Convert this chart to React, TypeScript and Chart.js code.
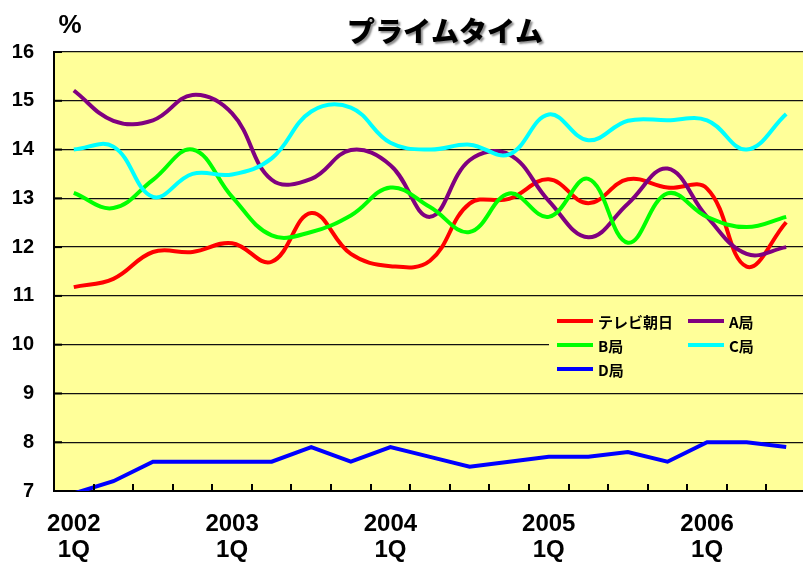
import React, { useEffect, useRef } from "react";
import { Chart, registerables } from "chart.js";

Chart.register(...registerables);

const categories: (string | string[])[] = [
  ["2002", "1Q"], "", "", "",
  ["2003", "1Q"], "", "", "",
  ["2004", "1Q"], "", "", "",
  ["2005", "1Q"], "", "", "",
  ["2006", "1Q"], "", "",
];

const seriesNames = ["テレビ朝日", "A局", "B局", "C局", "D局"];
const seriesColors = ["#FF0000", "#800080", "#00FF00", "#00FFFF", "#0000FF"];

const tvAsahi = [11.18, 11.35, 11.9, 11.9, 12.08, 11.7, 12.7, 11.86, 11.61, 11.72, 12.89, 12.99, 13.39, 12.9, 13.39, 13.22, 13.2, 11.6, 12.51];
const stationA = [15.21, 14.59, 14.6, 15.12, 14.74, 13.38, 13.4, 13.99, 13.68, 12.62, 13.78, 13.9, 12.95, 12.2, 12.89, 13.61, 12.62, 11.86, 12.0];
const stationB = [13.11, 12.8, 13.38, 14.0, 13.03, 12.24, 12.31, 12.65, 13.22, 12.82, 12.31, 13.1, 12.62, 13.4, 12.09, 13.1, 12.62, 12.41, 12.62];
const stationC = [14.0, 14.06, 13.03, 13.5, 13.49, 13.82, 14.78, 14.86, 14.14, 14.0, 14.1, 13.9, 14.72, 14.19, 14.59, 14.6, 14.6, 14.0, 14.73];
const stationD = [6.95, 7.2, 7.6, 7.6, 7.6, 7.6, 7.9, 7.6, 7.9, 7.7, 7.5, 7.6, 7.7, 7.7, 7.8, 7.6, 8.0, 8.0, 7.9];

const yMin = 7;
const yMax = 16;
const titleText = "プライムタイム";
const unitText = "%";

const PLOT_BG = "#FFFF99";

const decorPlugin = {
  id: "decor",
  beforeDraw(chart: any) {
    const { ctx, chartArea } = chart;
    ctx.save();
    ctx.fillStyle = "#FFFFFF";
    ctx.fillRect(0, 0, chart.width, chart.height);
    ctx.fillStyle = PLOT_BG;
    ctx.fillRect(chartArea.left, chartArea.top, chartArea.right - chartArea.left, chartArea.bottom - chartArea.top);
    ctx.restore();
  },
  afterDraw(chart: any) {
    const { ctx, chartArea } = chart;
    const xs = chart.scales.x;
    const ys = chart.scales.y;
    ctx.save();
    // inner tick marks on x axis (category boundaries)
    const w = xs.getPixelForValue(1) - xs.getPixelForValue(0);
    ctx.strokeStyle = "#000";
    ctx.lineWidth = 2;
    for (let i = 1; i < categories.length; i++) {
      const xb = Math.round(xs.getPixelForValue(i) - w / 2);
      ctx.beginPath();
      ctx.moveTo(xb, chartArea.bottom);
      ctx.lineTo(xb, chartArea.bottom - 7);
      ctx.stroke();
    }
    // inner tick marks on y axis
    for (let v = yMin; v <= yMax; v++) {
      const yp = ys.getPixelForValue(v);
      ctx.beginPath();
      ctx.moveTo(chartArea.left, yp);
      ctx.lineTo(chartArea.left + 8, yp);
      ctx.stroke();
    }

    // title with shadow
    ctx.font = "900 28px 'Noto Sans CJK JP'";
    ctx.textAlign = "center";
    ctx.textBaseline = "middle";
    ctx.save();
    ctx.shadowColor = "rgba(0,0,0,0.45)";
    ctx.shadowOffsetX = 2;
    ctx.shadowOffsetY = 2;
    ctx.shadowBlur = 2;
    ctx.fillStyle = "#000";
    ctx.fillText(titleText, 445, 31);
    ctx.restore();

    // unit label
    ctx.fillStyle = "#000";
    ctx.font = "bold 26px 'Liberation Sans', Arial, sans-serif";
    ctx.fillText(unitText, 70, 26);

    // legend box
    ctx.fillStyle = PLOT_BG;
    ctx.fillRect(549, 306, chartArea.right - 549, 77);
    const slots = [
      [557, 321], [688, 321],
      [557, 345], [688, 345],
      [557, 369],
    ];
    ctx.font = "bold 15px 'Noto Sans CJK JP'";
    ctx.textAlign = "left";
    ctx.textBaseline = "middle";
    chart.data.datasets.forEach((ds: any, i: number) => {
      const [lx, ly] = slots[i];
      ctx.strokeStyle = ds.borderColor;
      ctx.lineWidth = 4;
      ctx.beginPath();
      ctx.moveTo(lx, ly);
      ctx.lineTo(lx + 36, ly);
      ctx.stroke();
      ctx.fillStyle = "#000";
      ctx.fillText(ds.label, lx + 41, ly + 1);
    });
    ctx.restore();
  },
};

export default function App() {
  const ref = useRef<HTMLCanvasElement | null>(null);
  useEffect(() => {
    if (!ref.current) return;
    const values = [tvAsahi, stationA, stationB, stationC, stationD];
    const chart = new Chart(ref.current, {
      type: "line",
      data: {
        labels: categories,
        datasets: values.map((vals, i) => ({
          label: seriesNames[i],
          data: vals,
          borderColor: seriesColors[i],
          backgroundColor: seriesColors[i],
          borderWidth: 4,
          pointRadius: 0,
          tension: i === 4 ? 0 : 0.4,
          fill: false,
          order: -i,
        })),
      },
      options: {
        animation: false,
        responsive: false,
        devicePixelRatio: 1,
        layout: { padding: { top: 52, right: 6, left: 0, bottom: 0 } },
        plugins: {
          legend: { display: false },
          title: { display: false },
          tooltip: { enabled: false },
        },
        scales: {
          x: {
            type: "category",
            offset: true,
            grid: { display: false, offset: true, drawTicks: false },
            border: { display: true, color: "#000", width: 2 },
            ticks: {
              autoSkip: false,
              maxRotation: 0,
              minRotation: 0,
              padding: 20,
              color: "#000",
              font: { family: "'Liberation Sans', Arial, sans-serif", size: 24, weight: "bold", lineHeight: 1.1 },
            },
            afterFit: (s: any) => { s.height = 72; },
          },
          y: {
            min: yMin,
            max: yMax,
            grid: { color: "#111", lineWidth: 1.3, drawTicks: false },
            border: { display: true, color: "#000", width: 2 },
            ticks: {
              stepSize: 1,
              padding: 20,
              color: "#000",
              font: { family: "'Liberation Sans', Arial, sans-serif", size: 20, weight: "bold" },
            },
            afterFit: (s: any) => { s.width = 54; },
          },
        },
      },
      plugins: [decorPlugin],
    } as any);
    return () => chart.destroy();
  }, []);
  return (
    <div style={{ position: "fixed", left: 0, top: 0, width: 812, height: 563, overflow: "hidden" }}>
      <canvas ref={ref} width={812} height={563} style={{ display: "block" }} />
    </div>
  );
}
